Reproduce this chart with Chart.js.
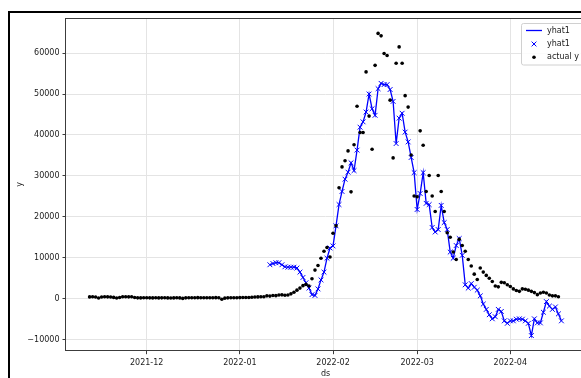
<!DOCTYPE html>
<html>
<head>
<meta charset="utf-8">
<script src="https://cdn.jsdelivr.net/npm/chart.js@4.4.0/dist/chart.umd.min.js"></script>
<style>
  html, body { margin: 0; padding: 0; background: #fff; overflow: hidden; width: 581px; height: 378px; }
  #wrap { position: relative; width: 581px; height: 378px; overflow: hidden; }
  #c { position: absolute; left: 0; top: 0; }
  #frame { position: absolute; left: 8px; top: 11px; width: 700px; height: 500px;
           border-left: 2px solid #000; border-top: 2px solid #000; pointer-events: none; }
</style>
</head>
<body>
<div id="wrap">
  <canvas id="c" width="600" height="378"></canvas>
  <div id="frame"></div>
</div>
<script>
// Daily observed cases, starting 2021-11-12
const actualStart = '2021-11-12';
const actualY = [
  // Nov 12 - Nov 30
  450, 480, 420, 180, 430, 470, 460, 420, 330, 180, 320, 470, 500, 460, 480, 300, 220, 200, 240,
  // Dec
  230, 220, 210, 240, 200, 220, 230, 210, 190, 210, 230, 200, 80, 220, 250, 240, 230, 260, 250, 240,
  230, 250, 240, 260, 230, -120, 150, 220, 240, 230, 250,
  // Jan
  280, 300, 320, 300, 380, 420, 450, 480, 500,
  700, 650, 800, 750, 900, 950, 850, 900, 1200, 1600, 2100, 2600, 3200, 3500, 3100, 4900, 7000, 8100,
  9900, 11600, 12500, 10200,
  // Feb
  16000, 17800, 27100, 32200, 33700, 36100, 26100, 37600, 47000, 40600, 40600, 55400, 44600, 36500,
  57000, 64800, 64200, 59900, 59400, 48500, 34400, 57500, 61500, 57500, 49600, 46800, 35100, 25100,
  // Mar
  24900, 41000, 37500, 26200, 30100, 25100, 21300, 30100, 26200, 21300, 16100, 15000, 11400, 9600,
  14500, 13000, 11600, 9600, 8000, 6000, 4700, 7500, 6500, 5700, 5000, 4200, 3100, 2900, 4000, 3900, 3400,
  // Apr 1 - Apr 17
  3000, 2400, 2000, 1800, 2400, 2300, 2100, 1800, 1500, 1000, 1400, 1600, 1400, 900, 700, 700, 500
];

// One-step-ahead model forecast, starting 2022-01-11
const forecastStart = '2022-01-11';
const yhat1 = [
  8300, 8600, 8800, 8800, 8300, 7800, 7700, 7700, 7700, 7500,
  6500, 5200, 3900, 2600, 1000, 800, 2400, 4600, 6500, 9900,
  12400, 12900, 17800, 23000, 26200, 29200, 30900, 33200, 31300, 36300,
  41900, 43200, 45600, 50000, 46400, 44800, 51300, 52600, 52300, 52300,
  51100, 48200, 37900, 44100, 45300, 40700, 38300, 34500, 30800, 21800,
  25700, 30800, 23300, 23000, 17400, 16300, 16900, 22800, 18600, 16900,
  11400, 9900, 13000, 14700, 10600, 3400, 2600, 3700, 2800, 2100,
  700, -1300, -2600, -3900, -4900, -4400, -2600, -3100, -5400, -6000,
  -5400, -5400, -5000, -4900, -5000, -5400, -6000, -9000, -4900, -5900,
  -5900, -3300, -700, -1800, -2600, -2000, -3700, -5400
];

const xTickDates  = ['2021-12-01', '2022-01-01', '2022-02-01', '2022-03-01', '2022-04-01'];
const xTickLabels = ['2021-12', '2022-01', '2022-02', '2022-03', '2022-04'];
const yTickValues = [-10000, 0, 10000, 20000, 30000, 40000, 50000, 60000];

const dayNum = s => Date.UTC(+s.slice(0, 4), +s.slice(5, 7) - 1, +s.slice(8, 10)) / 86400000;
const toPoints = (start, values) => values.map((v, i) => ({ x: dayNum(start) + i, y: v }));

const actualPts = toPoints(actualStart, actualY);
const yhatPts = toPoints(forecastStart, yhat1);

// 5% margins around the data, like the default axis autoscaling
const allX = actualPts.concat(yhatPts).map(p => p.x);
const allY = actualPts.concat(yhatPts).map(p => p.y);
const xLo = Math.min(...allX), xHi = Math.max(...allX);
const yLo = Math.min(...allY), yHi = Math.max(...allY);
const xPad = 0.05 * (xHi - xLo), yPad = 0.05 * (yHi - yLo);

const FONT = { family: "'DejaVu Sans', sans-serif", size: 8 };
const TEXT = '#1a1a1a';
const BLUE = '#0000ff';

const fmtNum = v => (v < 0 ? '\u2212' : '') + Math.abs(v);

// axes frame and in-plot legend
const frameLegend = {
  id: 'frameLegend',
  afterDatasetsDraw(chart) {
    const { ctx, chartArea: a } = chart;
    ctx.save();
    ctx.strokeStyle = '#3c3c3c';
    ctx.lineWidth = 1;
    ctx.strokeRect(Math.round(a.left) - 0.5, Math.round(a.top) + 0.5,
                   Math.round(a.right - a.left), Math.round(a.bottom - a.top));

    // legend box
    const bx = 521.5, by = 23.5, bw = 90, bh = 41.5, r = 2;
    ctx.beginPath();
    ctx.moveTo(bx + r, by);
    ctx.lineTo(bx + bw - r, by);
    ctx.quadraticCurveTo(bx + bw, by, bx + bw, by + r);
    ctx.lineTo(bx + bw, by + bh - r);
    ctx.quadraticCurveTo(bx + bw, by + bh, bx + bw - r, by + bh);
    ctx.lineTo(bx + r, by + bh);
    ctx.quadraticCurveTo(bx, by + bh, bx, by + bh - r);
    ctx.lineTo(bx, by + r);
    ctx.quadraticCurveTo(bx, by, bx + r, by);
    ctx.closePath();
    ctx.fillStyle = 'rgba(255,255,255,0.85)';
    ctx.fill();
    ctx.strokeStyle = '#d0d0d0';
    ctx.stroke();

    const ds = chart.data.datasets;
    const rows = [
      { y: 30.5, kind: 'line', label: ds[2].label },
      { y: 44, kind: 'cross', label: ds[1].label },
      { y: 57.3, kind: 'dot', label: ds[0].label }
    ];
    ctx.font = `${FONT.size}px ${FONT.family}`;
    ctx.textBaseline = 'middle';
    ctx.textAlign = 'left';
    rows.forEach(row => {
      if (row.kind === 'line') {
        ctx.strokeStyle = BLUE; ctx.lineWidth = 1.3;
        ctx.beginPath(); ctx.moveTo(526, row.y); ctx.lineTo(542, row.y); ctx.stroke();
      } else if (row.kind === 'cross') {
        ctx.strokeStyle = BLUE; ctx.lineWidth = 1;
        const cx = 534, d = 2.4;
        ctx.beginPath();
        ctx.moveTo(cx - d, row.y - d); ctx.lineTo(cx + d, row.y + d);
        ctx.moveTo(cx - d, row.y + d); ctx.lineTo(cx + d, row.y - d);
        ctx.stroke();
      } else {
        ctx.fillStyle = '#000';
        ctx.beginPath(); ctx.arc(534, row.y, 1.8, 0, Math.PI * 2); ctx.fill();
      }
      ctx.fillStyle = TEXT;
      ctx.fillText(row.label, 547, row.y);
    });
    ctx.restore();
  }
};

new Chart(document.getElementById('c'), {
  type: 'scatter',
  data: {
    datasets: [
      { label: 'actual y', data: actualPts, showLine: false, pointStyle: 'circle',
        pointRadius: 1.8, pointBackgroundColor: '#000', pointBorderWidth: 0 },
      { label: 'yhat1', data: yhatPts, showLine: false, pointStyle: 'crossRot',
        pointRadius: 3.4, pointBorderColor: BLUE, pointBackgroundColor: BLUE, pointBorderWidth: 1 },
      { label: 'yhat1', data: yhatPts, showLine: true, borderColor: BLUE, borderWidth: 1.3,
        pointRadius: 0, fill: false, tension: 0 }
    ]
  },
  options: {
    responsive: false,
    animation: false,
    events: [],
    layout: { padding: { top: 18.3, right: 15, bottom: 0, left: 0 } },
    plugins: { legend: { display: false }, tooltip: { enabled: false } },
    scales: {
      x: {
        type: 'linear',
        min: xLo - xPad,
        max: xHi + xPad,
        afterFit: s => { s.height = 27.3; },
        afterBuildTicks: s => { s.ticks = xTickDates.map(d => ({ value: dayNum(d) })); },
        ticks: {
          font: FONT, color: TEXT, padding: 4, maxRotation: 0, autoSkip: false,
          callback: v => xTickLabels[xTickDates.findIndex(d => dayNum(d) === v)]
        },
        grid: { color: '#e4e4e4', lineWidth: 1, tickLength: 3.5, tickColor: '#3c3c3c' },
        border: { display: false },
        title: { display: true, text: 'ds', font: FONT, color: TEXT, padding: { top: 0, bottom: -1 } }
      },
      y: {
        type: 'linear',
        min: yLo - yPad,
        max: yHi + yPad,
        afterFit: s => { s.width = 66; },
        afterBuildTicks: s => { s.ticks = yTickValues.map(v => ({ value: v })); },
        ticks: { font: FONT, color: TEXT, padding: 3, callback: v => fmtNum(v) },
        grid: { color: '#e4e4e4', lineWidth: 1, tickLength: 3.5, tickColor: '#3c3c3c' },
        border: { display: false },
        title: { display: true, text: 'y', font: FONT, color: TEXT, padding: { top: 15.5, bottom: 0 } }
      }
    }
  },
  plugins: [frameLegend]
});
</script>
</body>
</html>
